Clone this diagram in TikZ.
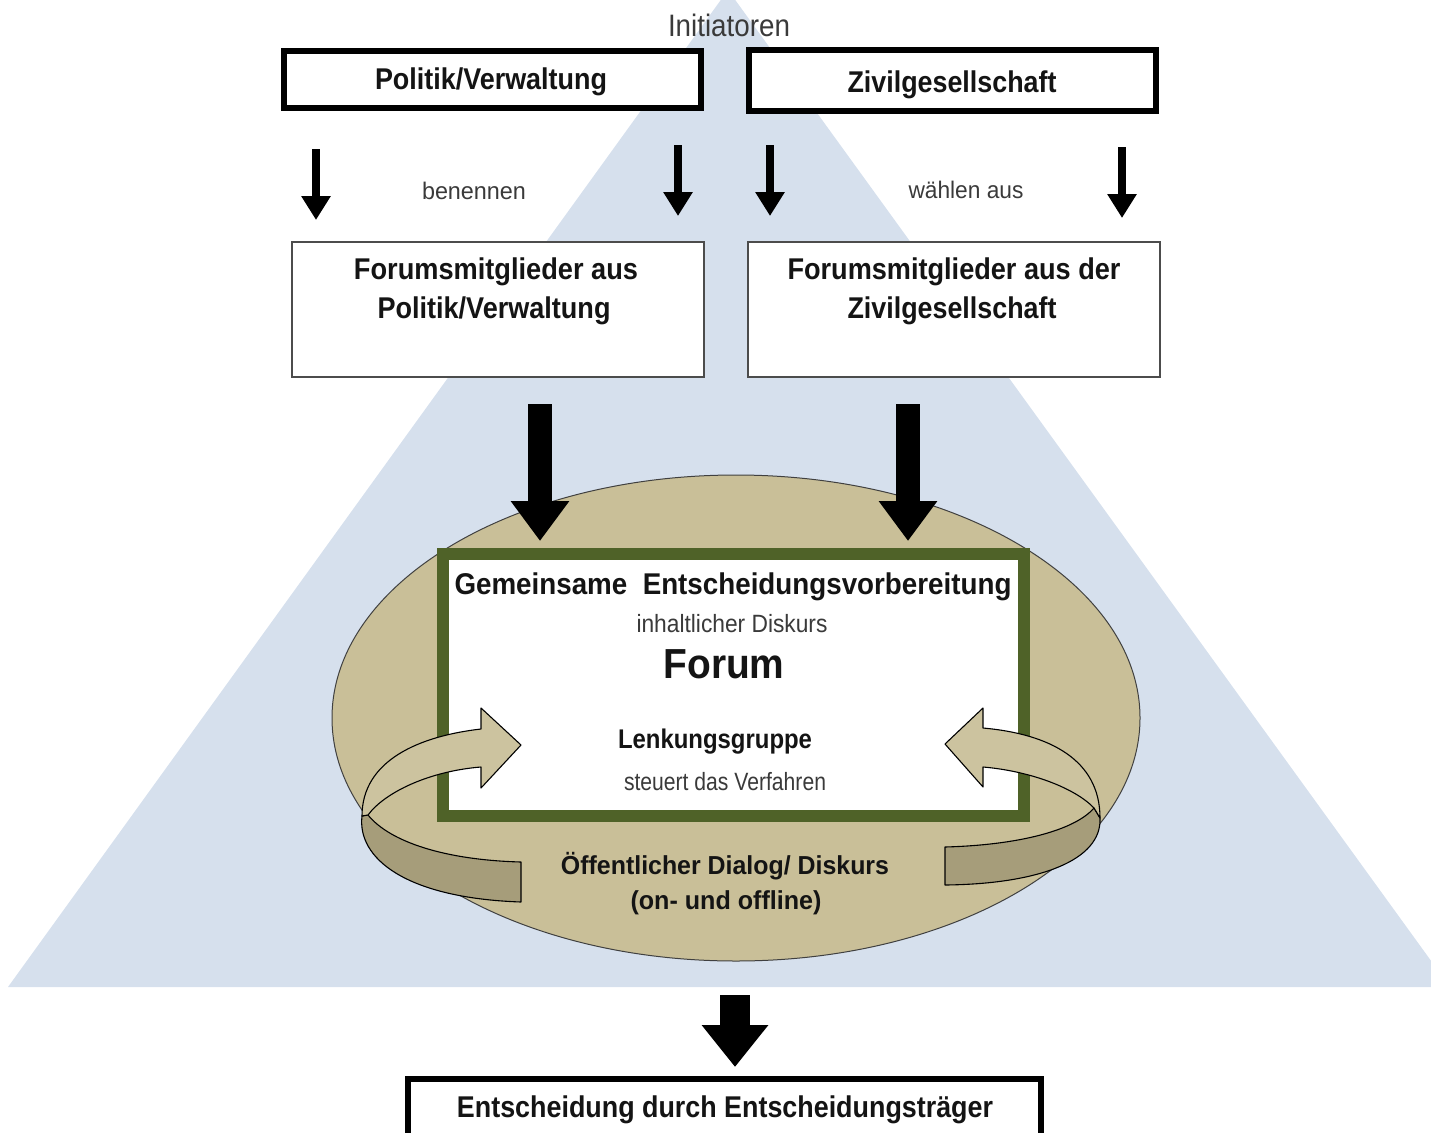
\documentclass[tikz,border=0pt]{standalone}
\usepackage{fontspec}
\setmainfont{Liberation Sans}
\usetikzlibrary{arrows.meta,shapes.geometric}
\newcommand{\fw}[2]{\resizebox{#1pt}{\height}{#2}}
\definecolor{tri}{HTML}{D6E0ED}
\definecolor{tanfill}{HTML}{C9BF98}
\definecolor{tanlight}{HTML}{CCC39F}
\definecolor{tandark}{HTML}{A69D7A}
\definecolor{olive}{HTML}{4F6228}
\definecolor{ink}{HTML}{141414}
\definecolor{greyink}{HTML}{3A3A3A}
\begin{document}
\begin{tikzpicture}[x=1pt,y=-1pt,
  thickbox/.style={draw=black, line width=6pt, fill=white, inner sep=0pt},
  thinbox/.style={draw=black!70, line width=1.3pt, fill=white, inner sep=0pt},
  bt/.style={font=\bfseries\fontsize{30}{34}\selectfont, text=ink, inner sep=0pt},
  bmid/.style={font=\bfseries\fontsize{26}{30}\selectfont, text=ink, inner sep=0pt},
  rt/.style={font=\fontsize{25}{28}\selectfont, text=greyink, inner sep=0pt},
  smallarrow/.style={draw=black, line width=8pt, -{Triangle[length=24pt,width=28pt]}},
  bigarrow/.style={draw=black, line width=24pt, -{Triangle[length=40pt,width=56pt]}},
  botarrow/.style={draw=black, line width=30pt, -{Triangle[length=42pt,width=64pt]}},
  band/.style={fill=tanlight, draw=black, line width=1.1pt, line join=round},
  bandback/.style={fill=tandark, draw=black, line width=1.1pt, line join=round}
]
\useasboundingbox (0,0) rectangle (1431,1132);
\clip (0,0) rectangle (1431,1132);

% background pyramid
\fill[tri] (728,-10) -- (1450,987) -- (8,987) -- cycle;

% forum ellipse
\node[ellipse, fill=tanfill, draw=black!75, line width=1pt,
      minimum width=808pt, minimum height=486pt, inner sep=0pt] (ell) at (736,718) {};

% forum frame
\node[draw=olive, line width=12pt, fill=white, minimum width=581pt,
      minimum height=262pt, inner sep=0pt] (forumbox) at (733.5,685) {};

% top boxes
\node[thickbox, minimum width=417pt, minimum height=57pt] (pv) at (492.5,79.5) {};
\node[thickbox, minimum width=407pt, minimum height=61pt] (zg) at (952.5,80.5) {};

% member boxes
\node[thinbox, minimum width=412pt, minimum height=135pt] (fpv) at (498,309.5) {};
\node[thinbox, minimum width=412pt, minimum height=135pt] (fzg) at (954,309.5) {};

% decision box
\node[thickbox, minimum width=633pt, minimum height=74pt] (dec) at (724.5,1116) {};

% small arrows
\coordinate (s1) at (316,149); \coordinate (e1) at (316,220);
\coordinate (s2) at (678,145); \coordinate (e2) at (678,216);
\coordinate (s3) at (770,145); \coordinate (e3) at (770,216);
\coordinate (s4) at (1122,147); \coordinate (e4) at (1122,218);
\draw[smallarrow] (s1) -- (e1);
\draw[smallarrow] (s2) -- (e2);
\draw[smallarrow] (s3) -- (e3);
\draw[smallarrow] (s4) -- (e4);

% big arrows
\coordinate (b1s) at (540,404); \coordinate (b1e) at (540,541);
\coordinate (b2s) at (908,404); \coordinate (b2e) at (908,541);
\draw[bigarrow] (b1s) -- (b1e);
\draw[bigarrow] (b2s) -- (b2e);
\coordinate (b3s) at (735,995); \coordinate (b3e) at (735,1067);
\draw[botarrow] (b3s) -- (b3e);

% left circular arrow
\path[bandback] (362,816) .. controls (357,858) and (405,898) .. (521,902)
   -- (521,862) .. controls (445,860) and (390,842) .. (368,815) -- cycle;
\path[band] (521,745) -- (481,708) -- (481,729)
   .. controls (420,736) and (362,760) .. (362,816)
   -- (368,815) .. controls (385,792) and (430,771) .. (481,767)
   -- (481,788) -- cycle;

% right circular arrow
\path[bandback] (1100,818) .. controls (1102,860) and (1040,884) .. (945,885)
   -- (945,847) .. controls (1020,845) and (1075,830) .. (1094,808) -- cycle;
\path[band] (945,744) -- (983,708) -- (983,728)
   .. controls (1050,734) and (1100,760) .. (1100,818)
   -- (1094,808) .. controls (1075,788) and (1030,771) .. (983,767)
   -- (983,787) -- cycle;

% texts
\node[font=\fontsize{31}{34}\selectfont, text=greyink, inner sep=0pt] (init) at (729,25) {\fw{122}{Initiatoren}};
\node[bt] (tpv) at (491,82) {\fw{232}{Politik/Verwaltung}};
\node[bt] (tzg) at (952,85) {\fw{209}{Zivilgesellschaft}};
\node[rt, font=\fontsize{24}{27}\selectfont] (ben) at (474,191) {\fw{104}{benennen}};
\node[rt, font=\fontsize{24}{27}\selectfont] (wae) at (966,190) {\fw{115}{wählen aus}};
\node[bt] (tf1) at (496,272) {\fw{284}{Forumsmitglieder aus}};
\node[bt] (tf2) at (494,311) {\fw{233}{Politik/Verwaltung}};
\node[bt] (tf3) at (954,272) {\fw{333}{Forumsmitglieder aus der}};
\node[bt] (tf4) at (952,311) {\fw{209}{Zivilgesellschaft}};
\node[bt] (tge) at (733,587) {\fw{557}{Gemeinsame\ \ Entscheidungsvorbereitung}};
\node[rt] (tin) at (732,624) {\fw{191}{inhaltlicher Diskurs}};
\node[bt, font=\bfseries\fontsize{42}{46}\selectfont] (tfo) at (724,664) {\fw{121}{Forum}};
\node[bt, font=\bfseries\fontsize{27}{30}\selectfont] (tle) at (715,742) {\fw{194}{Lenkungsgruppe}};
\node[rt] (tst) at (725,782) {\fw{202}{steuert das Verfahren}};
\node[bmid] (toe) at (725,866) {\fw{328}{Öffentlicher Dialog/ Diskurs}};
\node[bmid] (ton) at (726,903) {\fw{191}{(on- und offline)}};
\node[bt] (tde) at (725,1110) {\fw{536}{Entscheidung durch Entscheidungsträger}};
\end{tikzpicture}
\end{document}
